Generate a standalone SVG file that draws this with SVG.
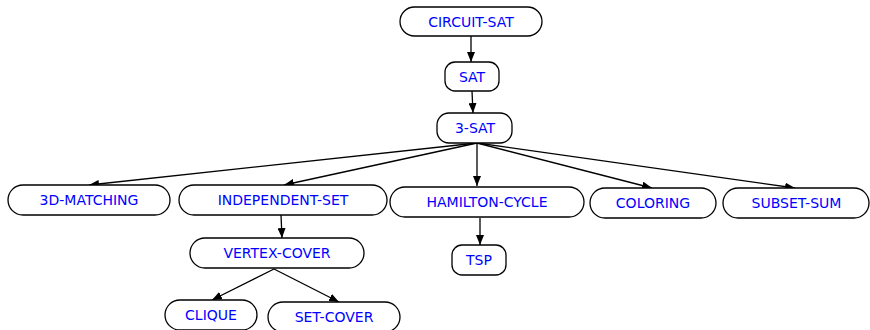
<svg xmlns="http://www.w3.org/2000/svg" width="870" height="330" viewBox="0 0 870 330">
  <defs>
    <marker id="arrow" viewBox="0 0 10 8" refX="10" refY="4" markerWidth="10" markerHeight="8" markerUnits="userSpaceOnUse" orient="auto">
      <path d="M0,0 L10,4 L0,8 z" fill="#000"/>
    </marker>
  </defs>
  <style>
    .node rect { fill: #fff; stroke: #000; stroke-width: 1.3; }
    .node text { font-family: "DejaVu Sans", sans-serif; font-size: 14px; fill: #0000ff; text-anchor: middle; dominant-baseline: central; }
    #edges line { stroke: #000; stroke-width: 1.3; marker-end: url(#arrow); }
  </style>
  <rect width="870" height="330" fill="#fff"/>

  <g id="edges">
    <line x1="471" y1="36" x2="471" y2="62"/>
    <line x1="472" y1="91" x2="473" y2="113"/>
    <line x1="477" y1="143" x2="89" y2="185"/>
    <line x1="477" y1="143" x2="284" y2="185"/>
    <line x1="477" y1="143" x2="477" y2="186"/>
    <line x1="477" y1="143" x2="652" y2="188"/>
    <line x1="477" y1="143" x2="795" y2="188"/>
    <line x1="281" y1="215" x2="282" y2="238"/>
    <line x1="480" y1="218" x2="480" y2="245"/>
    <line x1="274" y1="269" x2="212" y2="300"/>
    <line x1="274" y1="269" x2="339" y2="302"/>
  </g>

  <g id="circuit-sat" class="node">
    <rect x="400" y="7" width="142" height="29" rx="14.5"/>
    <text x="471" y="21.5">CIRCUIT-SAT</text>
  </g>
  <g id="sat" class="node">
    <rect x="445" y="62" width="54" height="29" rx="10"/>
    <text x="472" y="76.5">SAT</text>
  </g>
  <g id="three-sat" class="node">
    <rect x="437" y="113" width="75" height="30" rx="12"/>
    <text x="475" y="128">3-SAT</text>
  </g>
  <g id="three-d-matching" class="node">
    <rect x="8" y="185" width="162" height="30" rx="15"/>
    <text x="89" y="200">3D-MATCHING</text>
  </g>
  <g id="independent-set" class="node">
    <rect x="179" y="185" width="208" height="30" rx="15"/>
    <text x="283" y="200">INDEPENDENT-SET</text>
  </g>
  <g id="hamilton-cycle" class="node">
    <rect x="390" y="187" width="194" height="30" rx="15"/>
    <text x="487" y="202">HAMILTON-CYCLE</text>
  </g>
  <g id="coloring" class="node">
    <rect x="590" y="188" width="126" height="30" rx="15"/>
    <text x="653" y="203">COLORING</text>
  </g>
  <g id="subset-sum" class="node">
    <rect x="723" y="188" width="146" height="30" rx="15"/>
    <text x="796.5" y="203">SUBSET-SUM</text>
  </g>
  <g id="vertex-cover" class="node">
    <rect x="190" y="238" width="174" height="30" rx="15"/>
    <text x="277" y="253">VERTEX-COVER</text>
  </g>
  <g id="tsp" class="node">
    <rect x="452" y="245" width="54" height="30" rx="10"/>
    <text x="479" y="260">TSP</text>
  </g>
  <g id="clique" class="node">
    <rect x="165" y="300" width="92" height="30" rx="15"/>
    <text x="211" y="315">CLIQUE</text>
  </g>
  <g id="set-cover" class="node">
    <rect x="268" y="302" width="132" height="30" rx="15"/>
    <text x="334" y="317">SET-COVER</text>
  </g>
</svg>
